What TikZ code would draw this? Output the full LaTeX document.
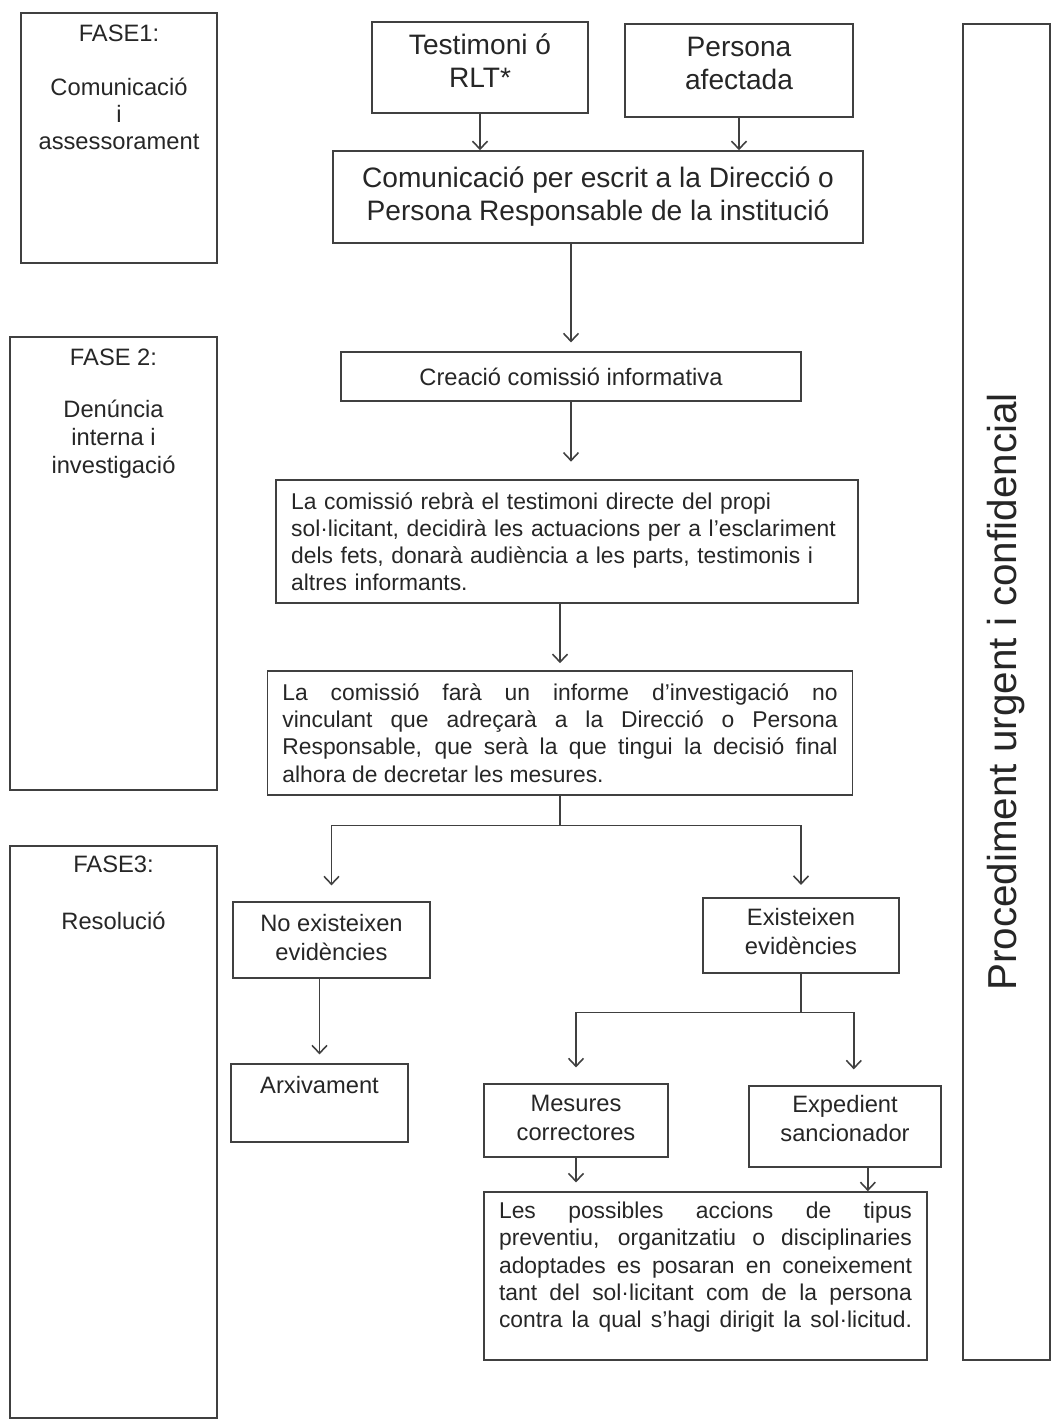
\documentclass[tikz,border=0pt]{standalone}
\usepackage{fontspec}
\setmainfont{Liberation Sans}
\usetikzlibrary{arrows.meta,positioning}
\newcommand\fnt[2]{\fontsize{#1}{#2}\selectfont}
\tikzset{
  box/.style={draw=black!75, line width=0.9pt, inner sep=0pt, align=center, text=black!85},
  txt/.style={inner sep=0pt, align=center, text=black!85},
  conn/.style={draw=black!75, line width=0.9pt},
  flow/.style={conn, -{Straight Barb[length=4.5pt,width=8.5pt]}},
}

\begin{document}
\begin{tikzpicture}[x=0.02cm, y=-0.02cm]
    \useasboundingbox (0,0) rectangle (1053,1422);

    % fases
    \node [box, minimum width=3.92cm, minimum height=5cm] (fase1) at (119,138) {};
    \node [txt, font=\fnt{13.5}{15.5}, below=7pt of fase1.north] (fase1txt)
        {FASE1:\\[15pt]Comunicació\\i\\assessorament};
    \node [box, minimum width=4.14cm, minimum height=9.06cm] (fase2) at (113.5,563.5) {};
    \node [txt, font=\fnt{13.5}{15.8}, below=7pt of fase2.north] (fase2txt)
        {FASE 2:\\[14pt]Denúncia\\interna i\\investigació};
    \node [box, minimum width=4.14cm, minimum height=11.44cm] (fase3) at (113.5,1132) {};
    \node [txt, font=\fnt{13.5}{15.5}, below=6pt of fase3.north] (fase3txt)
        {FASE3:\\[17pt]Resolució};
    \node [box, rotate=90, minimum width=26.72cm, minimum height=1.74cm, font=\fnt{23}{27}]
        (proc) at (1006.5,692) {Procediment urgent i confidencial};

    % fase 1
    \node [box, minimum width=4.32cm, minimum height=1.82cm, text depth=8pt, font=\fnt{16}{19}]
        (testimoni) at (480,67.5) {Testimoni ó\\RLT*};
    \node [box, minimum width=4.56cm, minimum height=1.86cm, text depth=8pt, font=\fnt{16}{19}]
        (persona) at (739,70.5) {Persona\\afectada};
    \node [box, minimum width=10.6cm, minimum height=1.84cm, text depth=4pt, font=\fnt{16}{18.5}]
        (comunic) at (598,197) {Comunicació per escrit a la Direcció o\\Persona Responsable de la institució};

    % fase 2
    \node [box, minimum width=9.2cm, minimum height=0.98cm, font=\fnt{13.5}{16}]
        (creacio) at (571,376.5) {Creació comissió informativa};
    \node [box, text width=314pt, inner xsep=8.5pt, minimum height=2.46cm, align=left, font=\fnt{13}{15.3}]
        (rebra) at (567,541.5) {La comissió rebrà el testimoni directe del propi\\sol·licitant, decidirà les actuacions per a l’esclariment\\dels fets, donarà audiència a les parts, testimonis i\\altres informants.};
    \node [box, text width=316pt, inner xsep=8.5pt, minimum height=2.48cm, align=justify, font=\fnt{13}{15.5}]
        (fara) at (560,733) {La comissió farà un informe d’investigació no\linebreak vinculant que adreçarà a la Direcció o Persona\linebreak Responsable, que serà la que tingui la decisió final\linebreak alhora de decretar les mesures.};

    % fase 3
    \node [box, minimum width=3.94cm, minimum height=1.52cm, text depth=3pt, font=\fnt{13.5}{16}]
        (noexist) at (331.5,940) {No existeixen\\evidències};
    \node [box, minimum width=3.92cm, minimum height=1.5cm, text depth=5pt, font=\fnt{13.5}{16.5}]
        (exist) at (801,935.5) {Existeixen\\evidències};
    \node [box, minimum width=3.54cm, minimum height=1.56cm] (arxiv) at (319.5,1103) {};
    \node [txt, font=\fnt{13.5}{16}, below=7pt of arxiv.north] (arxivtxt) {Arxivament};
    \node [box, minimum width=3.68cm, minimum height=1.46cm, text depth=3pt, font=\fnt{13.5}{16.5}]
        (mesures) at (576,1120.5) {Mesures\\correctores};
    \node [box, minimum width=3.84cm, minimum height=1.62cm, text depth=9pt, font=\fnt{13.5}{16.5}]
        (expedient) at (845,1126.5) {Expedient\\sancionador};
    \node [box, minimum width=8.86cm, minimum height=3.36cm] (possibles) at (705.5,1276) {};
    \node [txt, text width=235pt, align=justify, font=\fnt{13}{15.5}, below=6pt of possibles.north]
        (possiblestxt) {Les possibles accions de tipus\linebreak preventiu, organitzatiu o disciplinaries\linebreak adoptades es posaran en coneixement\linebreak tant del sol·licitant com de la persona\linebreak contra la qual s’hagi dirigit la sol·licitud.\linebreak};

    % fletxes
    \draw [flow] (testimoni) -- (testimoni |- comunic.north);
    \draw [flow] (persona) -- (persona |- comunic.north);
    \draw [flow, shorten >=5pt] (creacio |- comunic.south) -- (creacio.north);
    \draw [flow, shorten >=10pt] (creacio) -- (creacio |- rebra.north);
    \draw [flow, shorten >=4pt] (fara |- rebra.south) -- (fara.north);

    \coordinate [below=17pt of fara.south] (split1);
    \draw [conn] (fara.south) -- (split1);
    \draw [flow, shorten >=9pt] (split1) -| (noexist.north);
    \draw [flow, shorten >=7pt] (split1) -| (exist.north);
    \draw [flow, shorten >=5pt] (arxiv.north |- noexist.south) -- (arxiv.north);

    \coordinate [below=22pt of exist.south] (split2);
    \draw [conn] (exist.south) -- (split2);
    \draw [flow, shorten >=9pt] (split2) -| (mesures.north);
    \draw [flow, shorten >=9pt] (split2) -| ([xshift=5pt]expedient.north);
    \draw [flow, shorten >=5pt] (mesures) -- (mesures |- possibles.north);
    \draw [flow] ([xshift=13pt]expedient.south) -- ([xshift=13pt]expedient.south |- possibles.north);
\end{tikzpicture}
\end{document}
